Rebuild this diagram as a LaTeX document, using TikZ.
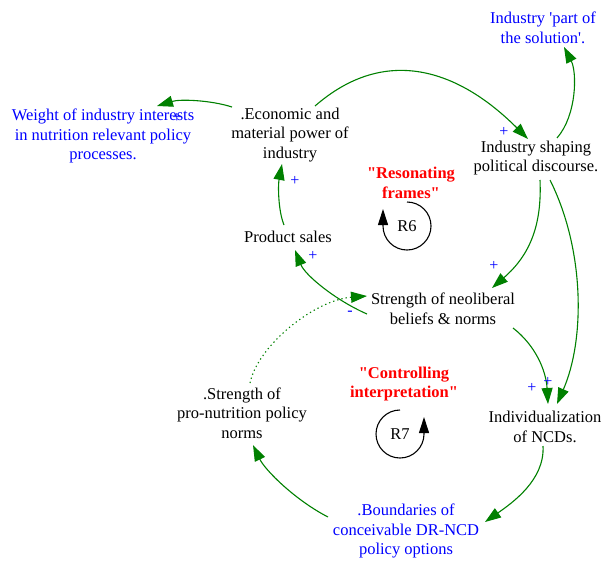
\documentclass[tikz,border=0pt]{standalone}
\usepackage{fontspec}
\setmainfont{Liberation Serif}
\usetikzlibrary{arrows.meta}
\definecolor{linkgreen}{RGB}{0,128,0}
\definecolor{polblue}{RGB}{0,0,255}
\definecolor{titlered}{RGB}{255,0,0}
\begin{document}
\begin{tikzpicture}[x=1pt,y=-1pt,
  var/.style={align=center, font=\fontsize{16.5}{19.5}\selectfont, inner sep=0pt},
  ext/.style={var, text=polblue},
  looptitle/.style={align=center, font=\fontsize{16.5}{19.5}\selectfont\bfseries, text=titlered, inner sep=0pt},
  loopname/.style={font=\fontsize{16.5}{19.5}\selectfont, inner sep=0pt},
  pol/.style={font=\fontsize{16}{16}\selectfont, text=polblue, inner sep=0pt},
  link/.style={draw=linkgreen, line width=1.1pt, -{Triangle[length=16pt,width=11pt]}},
  weaklink/.style={link, dash pattern=on 1.3pt off 3pt},
  loopcirc/.style={draw=black, line width=1.1pt, -{Triangle[length=16pt,width=10pt]}}]

\useasboundingbox (0,0) rectangle (607,560);

% variables
\node[ext] (weight) at (103,136) {Weight of industry interests\\in nutrition relevant policy\\processes.};
\node[var] (econ) at (290,135) {.Economic and\\material power of\\industry};
\node[ext] (part) at (543,28) {Industry \textquotesingle part of\\the solution\textquotesingle.};
\node[var] (shaping) at (536,158) {Industry shaping\\political discourse.};
\node[var] (product) at (288,237) {Product sales};
\node[var] (neolib) at (443,309) {Strength of neoliberal\\beliefs \& norms};
\node[var] (pronorm) at (242,413) {.Strength of\\pro-nutrition policy\\norms};
\node[var] (indiv) at (545,427) {Individualization\\of NCDs.};
\node[ext] (bound) at (406,531) {.Boundaries of\\conceivable DR-NCD\\policy options};

% loop titles and markers
\node[looptitle] (frames) at (411,183) {\textquotedbl Resonating\\frames\textquotedbl};
\node[loopname] (r6) at (407,226) {R6};
\node[looptitle] (control) at (404,384) {\textquotedbl Controlling\\interpretation\textquotedbl};
\node[loopname] (r7) at (400,434) {R7};

\draw[loopcirc] ([shift={(0,-24)}]r6.center) arc[start angle=90, end angle=-180, radius=24pt] -- ++(0pt,17pt);
\draw[loopcirc] ([shift={(0,-24)}]r7.center) arc[start angle=90, end angle=360, radius=24pt] -- ++(0pt,17pt);

% causal links
\draw[link] ([shift={(25,-29)}]econ.center) .. controls +(70,-61) and +(-70,-70) .. ([shift={(-8,-19)}]shaping.center);
\draw[link] ([shift={(-58,-28)}]econ.center) .. controls +(-22,-7) and +(23,-7) .. ([shift={(54,-30)}]weight.center);
\draw[link] ([shift={(21,-20)}]shaping.center) .. controls +(20,-23) and +(13,25) .. ([shift={(21,19)}]part.center);
\draw[link] ([shift={(4,22)}]shaping.center) .. controls +(2,45) and +(38,-33) .. ([shift={(49,-21)}]neolib.center);
\draw[link] ([shift={(14,22)}]shaping.center) .. controls +(35,70) and +(28,-64) .. ([shift={(12,-23)}]indiv.center);
\draw[link] ([shift={(70,19)}]neolib.center) .. controls +(22,17) and +(-2,-34) .. ([shift={(3,-23)}]indiv.center);
\draw[link] ([shift={(-76,5)}]neolib.center) .. controls +(-32,-14) and +(10,25) .. ([shift={(7,13)}]product.center);
\draw[link] ([shift={(-4,-12)}]product.center) .. controls +(-6,-15) and +(-4,21) .. ([shift={(-8,29)}]econ.center);
\draw[weaklink] ([shift={(8,-30)}]pronorm.center) .. controls +(8,-38) and +(-52,4) .. ([shift={(-76,-13)}]neolib.center);
\draw[link] ([shift={(-2,19)}]indiv.center) .. controls +(2,34) and +(27,-19) .. ([shift={(79,-9)}]bound.center);
\draw[link] ([shift={(-78,-14)}]bound.center) .. controls +(-33,-17) and +(12,25) .. ([shift={(11,32)}]pronorm.center);

% link polarities
\node[pol] (p1) at (177,118) {+};
\node[pol] (p2) at (504,132) {+};
\node[pol] (p3) at (295,181) {+};
\node[pol] (p4) at (494,266) {+};
\node[pol] (p5) at (313,256) {+};
\node[pol] (p6) at (350,313) {-};
\node[pol] (p7) at (532,388) {+};
\node[pol] (p8) at (548,382) {+};
\end{tikzpicture}
\end{document}
